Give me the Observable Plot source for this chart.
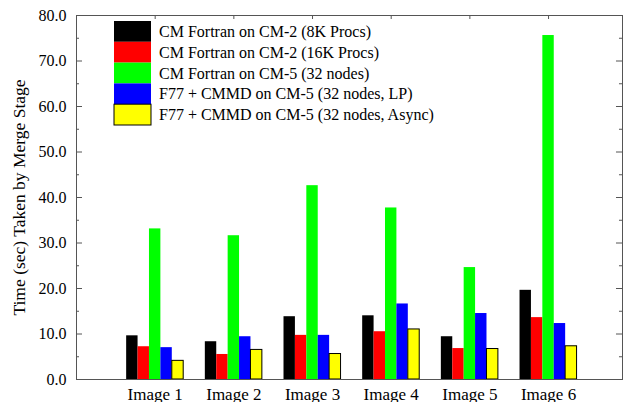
<!DOCTYPE html>
<html>
<head>
<meta charset="utf-8">
<script src="https://cdn.jsdelivr.net/npm/d3@7"></script>
<script src="https://cdn.jsdelivr.net/npm/@observablehq/plot@0.6"></script>
<style>
  html, body { margin: 0; padding: 0; background: #fff; }
  #chart { width: 623px; height: 402px; }
</style>
</head>
<body>
<div id="chart"></div>
<script>
// ---- Data ----
const images = ["Image 1", "Image 2", "Image 3", "Image 4", "Image 5", "Image 6"];
const series = [
  "CM Fortran on CM-2 (8K Procs)",
  "CM Fortran on CM-2 (16K Procs)",
  "CM Fortran on CM-5 (32 nodes)",
  "F77 + CMMD on CM-5 (32 nodes, LP)",
  "F77 + CMMD on CM-5 (32 nodes, Async)"
];
const seriesColors = ["#000000", "#ff0000", "#00ff00", "#0000ff", "#ffff00"];
const cm2_8k    = [9.6, 8.3, 13.8, 14.0, 9.4, 19.6];
const cm2_16k   = [7.2, 5.5, 9.7, 10.5, 6.8, 13.6];
const cm5_32    = [33.1, 31.6, 42.6, 37.7, 24.6, 75.6];
const cmmd_lp   = [7.0, 9.4, 9.7, 16.6, 14.5, 12.3];
const cmmd_async = [4.1, 6.5, 5.6, 11.0, 6.7, 7.3];
const yTicks = [0, 10, 20, 30, 40, 50, 60, 70, 80];
const yMinorTicks = [5, 15, 25, 35, 45, 55, 65, 75];
const yTitle = "Time (sec) Taken by Merge Stage";

// ---- Build table ----
const allSeries = [cm2_8k, cm2_16k, cm5_32, cmmd_lp, cmmd_async];
const rows = [];
images.forEach((img, i) => {
  allSeries.forEach((vals, s) => {
    rows.push({image: img, pos: i + 1, s, series: series[s], value: vals[i]});
  });
});
const positions = images.map((_, i) => i + 1);

const bw = 0.145;      // bar width in x units
const xMax = 6.94;
const tickLen = 6 / 78.6, minorLen = 3 / 78.6;

const frameColor = "#555";
const serif = "'Liberation Serif', 'Times New Roman', serif";

const chart = Plot.plot({
  width: 623,
  height: 402,
  marginLeft: 76,
  marginRight: 1,
  marginTop: 15,
  marginBottom: 23,
  style: {fontFamily: serif, fontSize: "16px", background: "#fff", color: "#000"},
  x: {type: "linear", domain: [0, xMax], axis: null},
  y: {domain: [0, 80], axis: null},
  color: {domain: series, range: seriesColors},
  marks: [
    Plot.rectY(rows, {
      x1: d => d.pos + (d.s - 2.5) * bw,
      x2: d => d.pos + (d.s - 1.5) * bw,
      y1: 0, y2: "value",
      fill: "series"
    }),
    Plot.rectY(rows.filter(d => d.s === 4), {
      x1: d => d.pos + (d.s - 2.5) * bw,
      x2: d => d.pos + (d.s - 1.5) * bw,
      y1: 0, y2: "value",
      fill: "#ffff00", stroke: "#000", strokeWidth: 1
    }),
    // inward ticks, left
    Plot.ruleY(yTicks, {y: d => d, x1: 0, x2: tickLen, stroke: frameColor}),
    Plot.ruleY(yMinorTicks, {y: d => d, x1: 0, x2: minorLen, stroke: frameColor}),
    // inward ticks, right
    Plot.ruleY(yTicks, {y: d => d, x1: xMax - tickLen, x2: xMax, stroke: frameColor}),
    Plot.ruleY(yMinorTicks, {y: d => d, x1: xMax - minorLen, x2: xMax, stroke: frameColor}),
    // top ticks at categories
    Plot.ruleX(positions, {x: d => d, y1: 80, y2: 80 - 4 / 4.55, stroke: frameColor}),
    Plot.frame({stroke: frameColor}),
    Plot.axisY(yTicks, {
      anchor: "left", tickSize: 0, tickPadding: 10,
      tickFormat: d => d.toFixed(1), fontSize: 16, label: null
    }),
    Plot.text([yTitle], {
      frameAnchor: "left", rotate: -90, dx: -57,
      textAnchor: "middle", lineAnchor: "middle",
      text: d => d, fontSize: 17.5, fill: "#000"
    }),
    Plot.axisX(positions, {
      anchor: "bottom", tickSize: 0, tickPadding: 8,
      tickFormat: d => images[d - 1], fontSize: 17, label: null
    })
  ]
});

document.getElementById("chart").appendChild(chart);

// ---- Legend (inside plot, top-left) ----
const svg = d3.select(chart.tagName.toLowerCase() === "svg" ? chart : chart.querySelector("svg"));
const lg = svg.append("g").attr("class", "legend")
  .attr("text-anchor", "start")
  .style("font-family", serif)
  .style("font-size", "16px");
const rowH = 20.8, lx = 114, ly = 21;
series.forEach((name, i) => {
  lg.append("rect")
    .attr("x", lx).attr("y", ly + i * rowH)
    .attr("width", 37).attr("height", rowH)
    .attr("fill", seriesColors[i])
    .attr("stroke", i === 4 ? "#000" : "none");
  lg.append("text")
    .attr("x", lx + 45).attr("y", ly + i * rowH + rowH / 2 + 5.5)
    .attr("text-anchor", "start")
    .attr("fill", "#000")
    .text(name);
});
</script>
</body>
</html>
